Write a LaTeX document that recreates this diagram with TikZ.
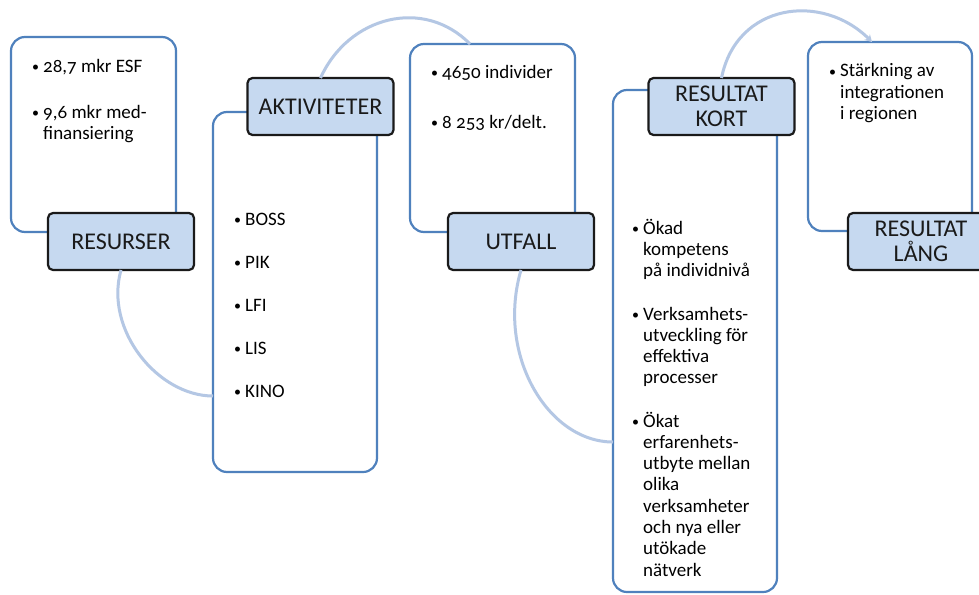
\documentclass[tikz,border=0pt]{standalone}
\usepackage{fontspec}
\setmainfont{Carlito}[Numbers=OldStyle]
\usetikzlibrary{arrows.meta}
\definecolor{boxblue}{RGB}{79,129,189}
\definecolor{lblfill}{RGB}{198,217,240}
\definecolor{arcblue}{RGB}{180,199,228}
\definecolor{lbltext}{RGB}{26,26,26}
\newcommand\bulx{\makebox[11pt][l]{\fontsize{14}{14}\selectfont\raisebox{0.5pt}{•}}}
\newcommand\lns[1]{\begin{tabular}[t]{@{}l@{}}#1\end{tabular}}
\begin{document}
\begin{tikzpicture}[x=1pt,y=-1pt,
  panel/.style={draw=boxblue, line width=2.2pt, fill=white, rounded corners=14pt, inner sep=0pt, outer sep=0pt},
  tag/.style={draw=lbltext, line width=2.2pt, fill=lblfill, rounded corners=5pt, minimum width=146pt, minimum height=57pt, inner sep=0pt, outer sep=0pt, font=\fontsize{24}{25}\selectfont, align=center, text=lbltext},
  itm/.style={anchor=base west, inner sep=0pt, font=\fontsize{19}{21.3}\selectfont},
  link/.style={draw=arcblue, line width=3pt}]
\useasboundingbox (0,0) rectangle (979,594);
\clip (0,0) rectangle (979,594);
\fill[white] (0,0) rectangle (979,594);

% free ends of connectors
\coordinate (c1) at (213,396);
\coordinate (c2) at (470,44);
\coordinate (c3) at (613,442);
\coordinate (c4) at (872,42);

% panels
\node[panel, minimum width=165pt, minimum height=195pt] (b1) at (93.5,134.5) {};
\node[panel, minimum width=164pt, minimum height=360pt] (b2) at (295,292) {};
\node[panel, minimum width=165pt, minimum height=188pt] (b3) at (492.5,138) {};
\node[panel, minimum width=164pt, minimum height=502pt] (b4) at (695,341) {};
\node[panel, minimum width=164pt, minimum height=189pt] (b5) at (890,136.5) {};

% labels
\node[tag] (l1) at (121,241.5) {RESURSER};
\node[tag] (l2) at (320.5,106.5) {AKTIVITETER};
\node[tag] (l3) at (521,241.5) {UTFALL};
\node[tag] (l4) at (721.5,106.5) {RESULTAT\\KORT};
\node[tag] (l5) at (921,241.5) {RESULTAT\\LÅNG};

% connectors
\draw[link] (l1.south) .. controls +(-17,60) and +(-55,0) .. (c1);
\draw[link] (l2.north) .. controls +(28,-62) and +(-46,-47) .. (c2);
\draw[link] (l3.south) .. controls +(-25,85) and +(-65,0) .. (c3);
\draw[link, -{Stealth[length=7pt,width=8pt]}] (l4.north) .. controls +(15,-75) and +(-50,-50) .. (c4);

% texts box 1
\node[itm] (t1a) at (32,72) {\bulx 28,7 mkr ESF};
\node[itm] (t1b) at (32,118) {\bulx\lns{9,6 mkr med-\\finansiering}};
% box 2
\node[itm] (t2a) at (234,225) {\bulx BOSS};
\node[itm] (t2b) at (234,268) {\bulx PIK};
\node[itm] (t2c) at (234,311) {\bulx LFI};
\node[itm] (t2d) at (234,354) {\bulx LIS};
\node[itm] (t2e) at (234,397) {\bulx KINO};
% box 3
\node[itm] (t3a) at (431,78) {\bulx 4650 individer};
\node[itm] (t3b) at (431,128) {\bulx 8 253 kr/delt.};
% box 4
\node[itm] (t4a) at (632,234) {\bulx\lns{Ökad\\kompetens\\på individnivå}};
\node[itm] (t4b) at (632,320) {\bulx\lns{Verksamhets-\\utveckling för\\effektiva\\processer}};
\node[itm] (t4c) at (632,427) {\bulx\lns{Ökat\\erfarenhets-\\utbyte mellan\\olika\\verksamheter\\och nya eller\\utökade\\nätverk}};
% box 5
\node[itm] (t5a) at (829,77) {\bulx\lns{Stärkning av\\integrationen\\i regionen}};
\end{tikzpicture}
\end{document}
